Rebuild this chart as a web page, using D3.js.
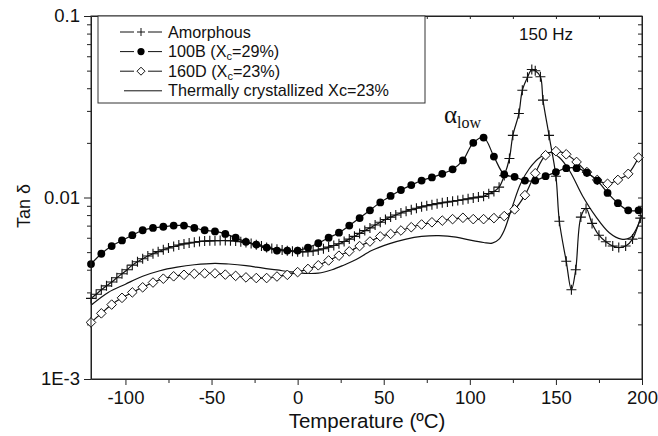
<!DOCTYPE html>
<html>
<head>
<meta charset="utf-8">
<script src="https://cdn.jsdelivr.net/npm/d3@7"></script>
<style>
  body { margin: 0; background: #fff; }
  svg text { font-family: "Liberation Sans", Arial, sans-serif; fill: #111; }
</style>
</head>
<body>
<div id="chart"></div>
<script>
const width = 658,
  height = 436,
  margin = { top: 16, right: 16, bottom: 57, left: 91 };

// Amorphous (crosses)
const amorphousT = [-120, -117, -114, -111, -108, -105, -102, -99, -96, -93, -90, -87, -84, -81, -78, -75, -72, -69, -66, -63,
  -60, -57, -54, -51, -48, -45, -42, -39, -36, -33, -30, -27, -24, -21, -18, -15, -12, -9, -6, -3,
  0, 3, 6, 9, 12, 15, 18, 21, 24, 27, 30, 33, 36, 39, 42, 45, 48, 51, 54, 57,
  60, 63, 66, 69, 72, 75, 78, 81, 84, 87, 90, 93, 96, 99, 102, 105, 108, 111, 114, 117,
  120, 123, 125, 128.5, 130.5, 133.5, 136, 138, 141, 142.5, 146, 150, 152, 156, 159, 161.5, 164.5, 167.5, 171, 175,
  179, 183, 186.5, 190.5, 194.5, 199];
const amorphousV = [0.00278, 0.00293, 0.0031, 0.00326, 0.00342, 0.00361, 0.0038, 0.004, 0.00424, 0.00443, 0.0046, 0.00476, 0.0049, 0.00503, 0.00515, 0.00527, 0.00537, 0.00547, 0.00555, 0.00561,
  0.00567, 0.00572, 0.00575, 0.00577, 0.00578, 0.00579, 0.00579, 0.00578, 0.00576, 0.00571, 0.00565, 0.00558, 0.00549, 0.0054, 0.00531, 0.00524, 0.00519, 0.00514, 0.00509, 0.00505,
  0.00503, 0.00502, 0.00503, 0.00507, 0.00514, 0.00522, 0.00533, 0.00544, 0.00556, 0.00572, 0.0059, 0.00611, 0.00634, 0.00657, 0.0068, 0.00705, 0.0073, 0.00756, 0.0078, 0.00801,
  0.00822, 0.0084, 0.00857, 0.00873, 0.00888, 0.00901, 0.00913, 0.00925, 0.00935, 0.00944, 0.00953, 0.00962, 0.00972, 0.00983, 0.00995, 0.01005, 0.01015, 0.0105, 0.0108, 0.0114,
  0.0132, 0.0164, 0.022, 0.029, 0.039, 0.046, 0.0507, 0.0499, 0.0463, 0.0344, 0.022, 0.0131, 0.0074, 0.00445, 0.0031, 0.004, 0.0078, 0.0087, 0.0072, 0.0062,
  0.0057, 0.0054, 0.0053, 0.0054, 0.0059, 0.0077];

// 100B (filled circles) and 160D (open diamonds) share the same temperatures
const sampleT = [-120, -114, -108, -102, -96, -90, -84, -78, -72, -66, -60, -54, -48, -42, -36, -30, -24, -18, -12, -6,
  0, 6, 12, 18, 24, 30, 36, 42, 48, 54, 60, 66, 72, 78, 84, 90, 96, 102, 108, 114,
  120, 126, 132, 138, 144, 150, 156, 162, 168, 174, 180, 186, 192, 198];
const b100V = [0.0043, 0.0049, 0.0054, 0.0058, 0.0062, 0.0066, 0.0068, 0.0069, 0.007, 0.007, 0.0068, 0.0066, 0.0065, 0.0063, 0.006, 0.0057, 0.0055, 0.0053, 0.0051, 0.0051,
  0.0051, 0.0053, 0.0056, 0.006, 0.0064, 0.007, 0.0077, 0.0085, 0.0094, 0.0102, 0.011, 0.0117, 0.0124, 0.0129, 0.0135, 0.0143, 0.016, 0.02, 0.0214, 0.0168,
  0.0134, 0.013, 0.0124, 0.0124, 0.0131, 0.0138, 0.0145, 0.0145, 0.0137, 0.0124, 0.0106, 0.0093, 0.0085, 0.0085];
const d160V = [0.00205, 0.0023, 0.00257, 0.0028, 0.003, 0.0032, 0.0034, 0.00357, 0.00368, 0.00375, 0.0038, 0.00382, 0.00382, 0.00376, 0.0037, 0.00363, 0.0036, 0.0036, 0.00367, 0.00375,
  0.00388, 0.00404, 0.00423, 0.0045, 0.00478, 0.00505, 0.0054, 0.00572, 0.0061, 0.0063, 0.00658, 0.00686, 0.0071, 0.0073, 0.00746, 0.0076, 0.00773, 0.0076, 0.0076, 0.0077,
  0.0079, 0.0086, 0.0103, 0.0136, 0.0171, 0.018, 0.0173, 0.0157, 0.0138, 0.0125, 0.0119, 0.0125, 0.0135, 0.0166];

// Thermally crystallized (line only)
const thermalT = [-120, -110, -100, -90, -80, -70, -60, -48, -40, -30, -20, -12, -5, 4, 12, 20, 27, 34, 43, 53,
  63, 72, 82, 92, 101, 108, 113, 117, 120, 124.5, 129.5, 134.5, 141, 146.5, 152, 158, 165.5, 173, 181, 188,
  193, 197, 200];
const thermalV = [0.00255, 0.003, 0.00333, 0.00368, 0.00395, 0.00413, 0.00426, 0.00434, 0.0043, 0.00421, 0.00408, 0.00399, 0.0039, 0.00382, 0.00383, 0.004, 0.00425, 0.00455, 0.0051, 0.00555,
  0.0059, 0.0061, 0.00616, 0.00605, 0.0058, 0.00565, 0.0056, 0.0059, 0.0066, 0.0088, 0.0119, 0.0144, 0.0167, 0.0177, 0.0166, 0.014, 0.0102, 0.0079, 0.0064, 0.0059,
  0.006, 0.0068, 0.008];

const xTicks = [-100, -50, 0, 50, 100, 150, 200];
const xMinor = [-75, -25, 25, 75, 125, 175];
const yTicks = [0.001, 0.01, 0.1];
const yTickLabels = ["1E-3", "0.01", "0.1"];
const yMinor = [0.002, 0.003, 0.004, 0.005, 0.006, 0.007, 0.008, 0.009, 0.02, 0.03, 0.04, 0.05, 0.06, 0.07, 0.08, 0.09];

const legendItems = [
  { key: "amorphous", label: "Amorphous" },
  { key: "b100", label: "100B (X", sub: "c", rest: "=29%)" },
  { key: "d160", label: "160D (X", sub: "c", rest: "=23%)" },
  { key: "thermal", label: "Thermally crystallized Xc=23%" }
];

const xScale = d3.scaleLinear().domain([-120, 200]).range([margin.left, width - margin.right]);
const yScale = d3.scaleLog().domain([0.001, 0.1]).range([height - margin.bottom, margin.top]);

const svg = d3.select("#chart").append("svg").attr("width", width).attr("height", height);

const pair = (ts, vs) => ts.map((t, i) => [t, vs[i]]);
const amorphous = pair(amorphousT, amorphousV);
const b100 = pair(sampleT, b100V);
const d160 = pair(sampleT, d160V);
const thermal = pair(thermalT, thermalV);

const line = d3.line()
  .x(d => xScale(d[0]))
  .y(d => yScale(d[1]))
  .curve(d3.curveCatmullRom.alpha(0.5));

const crossPath = "M-5,0H5M0,-5V5";
const diamondPath = "M0,-4.8L4.8,0L0,4.8L-4.8,0Z";
const dotR = 3.9;
const ink = "#111";

// axes
const plotBottom = height - margin.bottom;
const plotRight = width - margin.right;

function styleAxis(g) {
  g.select(".domain").attr("stroke", "#222");
  g.selectAll(".tick line").attr("stroke", "#222");
}

svg.append("g")
  .attr("transform", `translate(0,${plotBottom})`)
  .call(d3.axisBottom(xScale).tickValues(xTicks).tickSize(6).tickSizeOuter(0).tickPadding(6)
    .tickFormat(d => String(d)))
  .call(styleAxis)
  .call(g => g.selectAll("text").attr("font-size", 18.5));

svg.append("g")
  .attr("transform", `translate(0,${plotBottom})`)
  .call(d3.axisBottom(xScale).tickValues(xMinor).tickSize(4).tickFormat(""))
  .call(styleAxis)
  .call(g => g.select(".domain").remove());

svg.append("g")
  .attr("transform", `translate(0,${margin.top})`)
  .call(d3.axisBottom(xScale).tickValues(xTicks.concat(xMinor)).tickSize(3).tickSizeOuter(0).tickFormat(""))
  .call(styleAxis);

svg.append("g")
  .attr("transform", `translate(${margin.left},0)`)
  .call(d3.axisLeft(yScale).tickValues(yTicks).tickSize(7).tickSizeOuter(0).tickPadding(4)
    .tickFormat((d, i) => yTickLabels[i]))
  .call(styleAxis)
  .call(g => g.selectAll("text").attr("font-size", 18.5));

svg.append("g")
  .attr("transform", `translate(${margin.left},0)`)
  .call(d3.axisLeft(yScale).tickValues(yMinor).tickSize(4).tickFormat(""))
  .call(styleAxis)
  .call(g => g.select(".domain").remove());

svg.append("g")
  .attr("transform", `translate(${plotRight},0)`)
  .call(d3.axisLeft(yScale).tickValues(yTicks.concat(yMinor)).tickSize(4).tickSizeOuter(0).tickFormat(""))
  .call(styleAxis);

svg.append("text")
  .attr("x", 367)
  .attr("y", 428)
  .attr("text-anchor", "middle")
  .attr("font-size", 20.5)
  .text("Temperature (ºC)");

svg.append("text")
  .attr("transform", `translate(30,206) rotate(-90)`)
  .attr("text-anchor", "middle")
  .attr("font-size", 18)
  .text("Tan δ");

// series
const plot = svg.append("g");

plot.append("path").datum(thermal)
  .attr("fill", "none").attr("stroke", ink).attr("stroke-width", 1.2).attr("d", line);

plot.append("path").datum(amorphous)
  .attr("fill", "none").attr("stroke", ink).attr("stroke-width", 1.2).attr("d", line);
plot.selectAll(".cross").data(amorphous).join("path")
  .attr("class", "cross")
  .attr("transform", d => `translate(${xScale(d[0])},${yScale(d[1])})`)
  .attr("d", crossPath)
  .attr("stroke", ink).attr("stroke-width", 1.1);

plot.append("path").datum(d160)
  .attr("fill", "none").attr("stroke", ink).attr("stroke-width", 1.2).attr("d", line);
plot.selectAll(".diamond").data(d160).join("path")
  .attr("class", "diamond")
  .attr("transform", d => `translate(${xScale(d[0])},${yScale(d[1])})`)
  .attr("d", diamondPath)
  .attr("fill", "#fff").attr("stroke", ink).attr("stroke-width", 1);

plot.append("path").datum(b100)
  .attr("fill", "none").attr("stroke", ink).attr("stroke-width", 1.2).attr("d", line);
plot.selectAll(".dot").data(b100).join("circle")
  .attr("class", "dot")
  .attr("cx", d => xScale(d[0]))
  .attr("cy", d => yScale(d[1]))
  .attr("r", dotR)
  .attr("fill", "#000");

// frame
svg.append("rect")
  .attr("x", margin.left).attr("y", margin.top)
  .attr("width", plotRight - margin.left).attr("height", plotBottom - margin.top)
  .attr("fill", "none").attr("stroke", "#222");

// legend
const legend = svg.append("g");
legend.append("rect")
  .attr("x", 98).attr("y", margin.top)
  .attr("width", 327).attr("height", 87)
  .attr("fill", "#fff").attr("stroke", "#333");

const rows = legend.selectAll(".row").data(legendItems).join("g")
  .attr("class", "row")
  .attr("transform", (d, i) => `translate(0,${32 + i * 19.6})`);

// dash - marker - dash, plain line for the thermal curve
rows.filter(d => d.key !== "thermal").append("path")
  .attr("d", "M120,0H134M148,0H162")
  .attr("stroke", ink);
rows.filter(d => d.key === "thermal").append("line")
  .attr("x1", 124).attr("x2", 162)
  .attr("stroke", ink);
rows.filter(d => d.key === "amorphous").append("path")
  .attr("transform", "translate(141,0)").attr("d", "M-4,0H4M0,-4V4").attr("stroke", ink);
rows.filter(d => d.key === "b100").append("circle")
  .attr("cx", 141).attr("r", 3.6).attr("fill", "#000");
rows.filter(d => d.key === "d160").append("path")
  .attr("transform", "translate(141,0)").attr("d", "M0,-4L4,0L0,4L-4,0Z")
  .attr("fill", "#fff").attr("stroke", ink);

const labels = rows.append("text")
  .attr("x", 168).attr("y", 5.5)
  .attr("font-size", 16.2);
labels.append("tspan").text(d => d.label);
labels.filter(d => d.sub).append("tspan").attr("dy", 3).attr("font-size", 11).text(d => d.sub);
labels.filter(d => d.sub).append("tspan").attr("dy", -3).text(d => d.rest);

// annotations
svg.append("text")
  .attr("x", 546).attr("y", 40)
  .attr("text-anchor", "middle")
  .attr("font-size", 17)
  .text("150 Hz");

const alpha = svg.append("text")
  .attr("x", 444).attr("y", 123)
  .style("font-family", "'Liberation Serif', 'Times New Roman', serif");
alpha.append("tspan").attr("font-size", 25).text("α");
alpha.append("tspan").attr("dy", 5).attr("font-size", 16).text("low");
</script>
</body>
</html>
